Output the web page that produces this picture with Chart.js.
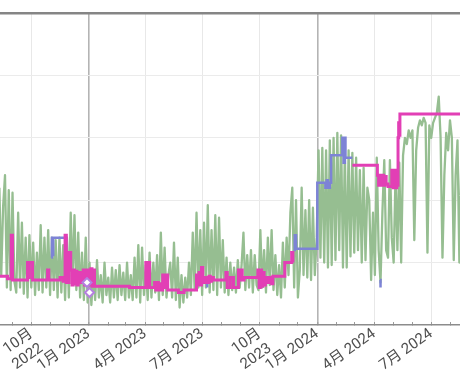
<!DOCTYPE html>
<html>
<head>
<meta charset="utf-8">
<script src="https://cdn.jsdelivr.net/npm/chart.js@4.4.1/dist/chart.umd.min.js"></script>
<style>
  html, body { margin: 0; padding: 0; background: #fff; }
  #wrap { width: 460px; height: 380px; }
</style>
</head>
<body>
<div id="wrap"><canvas id="chart" width="460" height="380"></canvas></div>
<script>
// ---- data ----------------------------------------------------------
const viewStart = '2022-08-12';
const viewEnd = '2024-08-16';

const monthTicks = [
  '2022-09','2022-10','2022-11','2022-12','2023-01','2023-02','2023-03','2023-04',
  '2023-05','2023-06','2023-07','2023-08','2023-09','2023-10','2023-11','2023-12',
  '2024-01','2024-02','2024-03','2024-04','2024-05','2024-06','2024-07','2024-08'
];
const labelMonths = ['2022-10','2023-01','2023-04','2023-07','2023-10','2024-01','2024-04','2024-07'];
const labelTexts = [['10月','2022'], '1月 2023', '4月 2023', '7月 2023', ['10月','2023'], '1月 2024', '4月 2024', '7月 2024'];

// green: one reading every 3 days from greenStart
const greenStart = '2022-08-11';
const greenStepDays = 3;
const greenValues = [
  110, 40, 95, 120, 30, 108, 28, 106, 35, 26,
  90, 30, 82, 25, 70, 22, 72, 30, 66, 24,
  58, 28, 80, 26, 70, 30, 76, 24, 70, 28,
  68, 22, 70, 26, 64, 20, 70, 22, 90, 35,
  88, 28, 74, 22, 58, 20, 70, 18, 50, 16,
  42, 20, 52, 22, 40, 18, 50, 24, 38, 18,
  46, 22, 44, 20, 48, 24, 42, 20, 50, 22,
  40, 20, 54, 22, 64, 18, 62, 24, 48, 20,
  58, 22, 50, 26, 56, 20, 74, 24, 62, 22,
  40, 50, 22, 66, 20, 54, 14, 40, 18, 38,
  22, 50, 24, 74, 28, 90, 30, 76, 24, 82,
  30, 96, 26, 76, 28, 88, 24, 86, 30, 68,
  26, 54, 24, 50, 28, 46, 26, 52, 30, 48,
  74, 28, 56, 30, 60, 26, 56, 32, 28, 76,
  30, 60, 26, 70, 32, 76, 28, 56, 24, 48,
  22, 66, 30, 70, 40, 90, 110, 30, 100, 22,
  44, 110, 40, 92, 38, 100, 36, 94, 40, 70,
  140, 54, 142, 50, 140, 46, 148, 48, 150, 52,
  154, 60, 152, 46, 138, 46, 140, 55, 138, 58,
  134, 60, 124, 50, 126, 52, 110, 100, 36, 90,
  40, 134, 60, 34, 90, 132, 60, 54, 132, 70,
  50, 120, 60, 130, 50, 136, 150, 145, 156, 150,
  156, 68, 140, 158, 164, 160, 166, 162, 58, 160,
  150, 162, 166, 170, 183, 150, 54, 120, 154, 140, 164, 150, 52, 120, 148, 50, 130
];

const pinkDates = [
  '2022-08-10','2022-08-24','2022-08-30','2022-09-01','2022-09-25','2022-09-27','2022-09-28','2022-10-03',
  '2022-10-27','2022-10-29','2022-11-16','2022-11-21','2022-11-24','2022-11-26','2022-11-30','2022-12-03',
  '2022-12-05','2022-12-07','2022-12-09','2022-12-11','2022-12-13','2022-12-15','2022-12-17','2022-12-19',
  '2022-12-21','2022-12-23','2022-12-25','2022-12-27','2022-12-29','2022-12-31','2023-01-02','2023-01-04',
  '2023-01-06','2023-01-08','2023-01-10','2023-03-07','2023-04-02','2023-04-04','2023-04-05','2023-04-08',
  '2023-04-16','2023-04-18','2023-04-20','2023-04-22','2023-04-24','2023-04-26','2023-04-29','2023-05-02',
  '2023-05-04','2023-05-07','2023-05-24','2023-06-02','2023-06-22','2023-06-24','2023-06-26','2023-06-28',
  '2023-06-30','2023-07-02','2023-07-04','2023-07-06','2023-07-08','2023-07-10','2023-07-12','2023-07-14',
  '2023-07-16','2023-07-19','2023-08-08','2023-08-10','2023-08-15','2023-08-20','2023-08-28','2023-08-30',
  '2023-09-01','2023-09-03','2023-09-06','2023-09-28','2023-09-30','2023-10-02','2023-10-04','2023-10-06',
  '2023-10-08','2023-10-10','2023-10-14','2023-10-16','2023-10-20','2023-10-22','2023-11-10','2023-11-21',
  '2023-11-23','2023-11-25','2024-02-26','2024-04-06','2024-04-08','2024-04-10','2024-04-12','2024-04-14',
  '2024-04-16','2024-04-18','2024-04-20','2024-04-23','2024-04-29','2024-05-01','2024-05-03','2024-05-05',
  '2024-05-07','2024-05-09','2024-05-10','2024-05-11','2024-05-12','2024-08-20'
];
const pinkValues = [
  39, 37, 72, 36, 50, 38, 50, 36,
  44, 36, 38, 35, 72, 34, 58, 44,
  32, 44, 33, 43, 32, 42, 34, 42,
  34, 44, 32, 44, 32, 44, 32, 45,
  31, 44, 31, 30, 50, 30, 50, 30,
  34, 28, 34, 28, 33, 28, 40, 30,
  40, 28, 26, 28, 40, 32, 42, 32,
  46, 34, 38, 34, 38, 34, 39, 35,
  38, 36, 42, 30, 38, 30, 44, 36,
  44, 36, 38, 44, 30, 44, 31, 42,
  32, 38, 34, 38, 33, 39, 50, 58,
  50, null, 128, 120, 112, 120, 112, 120,
  112, 119, 113, 111, 124, 110, 124, 110,
  112, 150, 162, 152, 169, 169
];

const blueDates = [
  '2022-11-02','2022-11-03','2022-11-04','2022-11-05','2022-11-26','2022-11-27',
  '2023-07-07','2023-07-09','2023-07-10',
  '2023-11-24','2023-11-26','2023-11-28','2024-01-01','2024-01-14','2024-01-16','2024-01-18',
  '2024-01-21','2024-01-23','2024-02-10','2024-02-12','2024-02-14','2024-02-15','2024-02-26','2024-02-27',
  '2024-04-10','2024-04-11','2024-04-12'
];
const blueValues = [
  54, 70, 56, 70, 68, null,
  34, 30, null,
  60, 72, 61, 114, 110, 116, 110,
  114, 136, 150, 130, 150, 134, 134, null,
  36, 30, null
];

const markerDates = ['2022-12-29', '2023-01-02'];
const markerValues = [34, 26];

// ---- helpers -------------------------------------------------------
const DAY = 86400000;
const ORIGIN = Date.UTC(2022, 8, 1);
function toDay(s) {
  const [y, m, d] = s.split('-').map(Number);
  return (Date.UTC(y, m - 1, d || 1) - ORIGIN) / DAY;
}
function monthOf(v) { return new Date(ORIGIN + v * DAY).getUTCMonth(); }

const g0 = toDay(greenStart);
const greenPoints = greenValues.map((v, i) => ({ x: g0 + i * greenStepDays, y: v }));
const pinkPoints = pinkDates.map((d, i) => ({ x: toDay(d), y: pinkValues[i] }));
const bluePoints = blueDates.map((d, i) => ({ x: toDay(d), y: blueValues[i] }));
const markerPoints = markerDates.map((d, i) => ({ x: toDay(d), y: markerValues[i] }));
const labelDays = labelMonths.map(toDay);

const FONT = "Roboto, 'Noto Sans CJK SC', sans-serif";

new Chart(document.getElementById('chart'), {
  type: 'line',
  data: {
    datasets: [
      { type: 'scatter', data: markerPoints, order: 1, pointStyle: 'rectRot', pointRadius: 4.5,
        pointBorderWidth: 2, pointBorderColor: '#b47ee0', pointBackgroundColor: '#ffffff', showLine: false },
      { data: pinkPoints, order: 2, stepped: 'before', borderColor: '#e23fb5', borderWidth: 3,
        pointRadius: 0, borderJoinStyle: 'miter', spanGaps: false },
      { data: bluePoints, order: 3, stepped: 'before', borderColor: '#7d83d6', borderWidth: 2.5,
        pointRadius: 0, spanGaps: false },
      { data: greenPoints, order: 4, borderColor: '#96be91', borderWidth: 2.3,
        pointRadius: 0, borderJoinStyle: 'round', tension: 0 }
    ]
  },
  options: {
    responsive: false,
    animation: false,
    events: [],
    layout: { autoPadding: false, padding: { top: 13, left: 0, right: 0, bottom: 0 } },
    plugins: { legend: { display: false }, tooltip: { enabled: false } },
    scales: {
      x: {
        type: 'linear',
        min: toDay(viewStart),
        max: toDay(viewEnd),
        afterBuildTicks: s => { s.ticks = monthTicks.map(m => ({ value: toDay(m) })); },
        afterFit: s => { s.height = 55; s.paddingLeft = 0; s.paddingRight = 0; },
        border: { display: true, color: '#8c8c8c', width: 1.5 },
        grid: {
          drawTicks: true,
          tickLength: -3,
          color: ctx => {
            const m = monthOf(ctx.tick.value);
            if (m === 0) return '#b4b4b4';
            return m % 3 === 0 ? '#e8e8e8' : 'rgba(0,0,0,0)';
          },
          lineWidth: ctx => (monthOf(ctx.tick.value) === 0 ? 1.6 : 1),
          tickColor: '#9a9a9a',
          tickWidth: 1
        },
        ticks: {
          autoSkip: false,
          minRotation: 35,
          maxRotation: 35,
          padding: 3,
          color: '#4d4d4d',
          font: { family: FONT, size: 15 },
          callback: v => {
            const i = labelDays.indexOf(v);
            return i >= 0 ? labelTexts[i] : '';
          }
        }
      },
      y: {
        min: 0,
        max: 250,
        afterFit: s => { s.width = 0; },
        border: { display: false },
        ticks: { display: false, stepSize: 50 },
        grid: {
          drawTicks: false,
          color: ctx => (ctx.tick.value === 250 ? '#858585' : ctx.tick.value === 0 ? 'rgba(0,0,0,0)' : '#ebebeb'),
          lineWidth: ctx => (ctx.tick.value === 250 ? 2.5 : 1)
        }
      }
    }
  }
});
</script>
</body>
</html>
